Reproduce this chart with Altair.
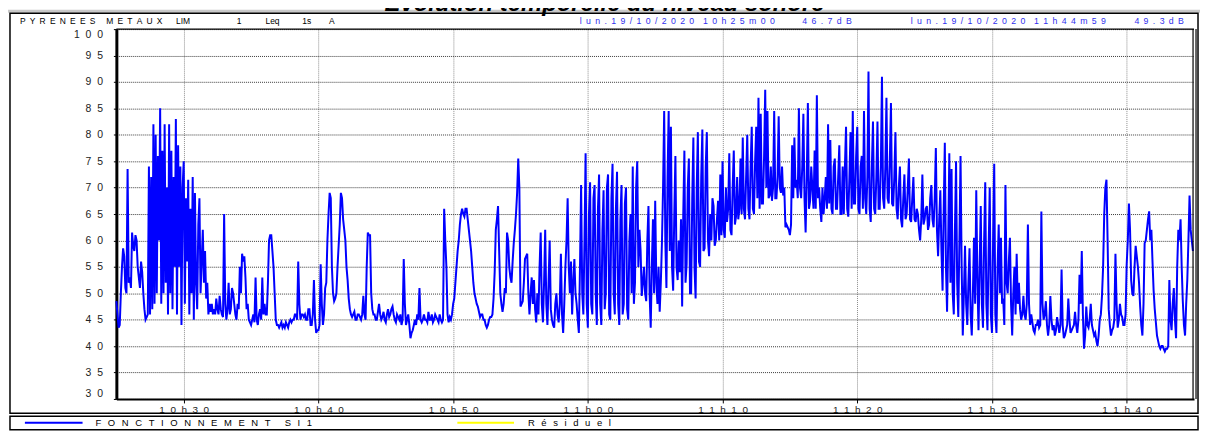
import altair as alt
import pandas as pd

NB = "\u00a0"
EN = "\u2002"
TH = "\u2009"


def spaced(s, sep):
    return sep.join(s)


# ---- data: Leq(A) readings, one value every 5 s (twelve per minute) ----
leq_1025 = [
    48.5, 46, 43.5, 44, 50, 55, 58.5, 57, 51, 50, 73.5, 52,
    53, 51, 61.5, 59, 58, 61, 60, 55, 53, 51, 56, 54,
    50, 47, 45, 45.5, 46, 74, 46, 72, 47, 82, 48, 80,
    50, 76, 60, 85, 48, 77, 50, 82, 52, 70, 46, 82,
    50, 77, 47, 72, 55, 83, 46, 78, 55, 74, 44, 70,
    75, 48, 68, 56, 71.5, 46, 66, 50, 72, 45, 69, 52,
    47, 63, 68, 50, 56, 62, 52, 58, 49, 52, 46, 48,
    46.5, 48, 46, 47, 46, 49, 47, 46, 49.5, 47, 46, 45.5,
    65, 48, 45, 47, 52, 46, 47, 51, 50, 48, 46, 45,
    48, 47, 55, 50, 57.5, 56, 57, 53, 47, 48, 45, 44.5,
]
leq_1035 = [
    44, 45, 46, 44.5, 53, 45, 44, 46, 47, 45, 53, 46,
    48, 46, 46, 52, 60, 61, 61, 58, 55, 50, 45, 44,
    44, 43.5, 44, 44.5, 43.5, 44, 43.5, 44.5, 44, 43.5, 44.5, 45,
    44.5, 45, 45, 46, 46, 45, 56, 48, 45, 46, 46, 45.5,
    46, 45, 45, 47, 47, 44, 44, 46, 52.5, 45, 42.5, 43,
    43, 44, 55.5, 48, 44, 46, 51, 52, 60, 65, 69, 68,
    55, 50, 48.5, 49, 50, 55, 59, 63, 69, 68, 64, 62,
    60, 55, 52.5, 49, 47, 46, 45.5, 46, 46.5, 45, 45, 46,
    46, 45.5, 45, 46, 49.5, 46, 45, 55, 61.5, 61, 61, 50,
    47, 46, 46, 45, 45, 46.5, 48, 46, 45, 45.5, 46.5, 45,
]
leq_1045 = [
    44.5, 46, 47, 45.5, 46, 47, 47.5, 46, 45, 44.5, 46, 45.5,
    45, 46, 44, 45, 56.5, 48, 44, 45, 46, 44, 41.5, 42.5,
    43, 44, 45, 44, 46, 45, 51, 45, 44.5, 45, 46, 45,
    45, 44.5, 46.5, 45, 45, 46, 44.5, 45, 46, 45.5, 45, 44.5,
    46, 45, 44.5, 45, 66, 60, 55, 46, 44.5, 45.5, 45, 46,
    48, 49, 52, 55, 58, 60, 63, 65, 66, 65, 64.5, 66,
    66, 64, 62, 60, 58, 55, 52, 50, 49, 48, 47.5, 46.5,
    45.5, 46, 46, 45, 45, 44, 43.5, 44, 45, 45.5, 45.5, 46,
    49, 54, 62, 64, 66.5, 58, 50, 48, 46.5, 48, 51, 50,
    61.5, 60, 55, 53, 52, 56, 59.5, 62, 65, 69, 75.5, 70,
]
leq_1055 = [
    47.5, 48, 48.5, 52, 56.5, 57, 57.5, 50, 46, 50, 53, 48,
    52.5, 47, 44.5, 50, 46, 55, 61.5, 48, 44.5, 52, 62, 48,
    44, 52, 60, 47, 45, 44, 43.5, 48, 50, 46, 44.5, 48,
    57.5, 46, 42.5, 48, 55, 60, 68, 55, 50, 56, 46, 52,
    56.5, 50, 48, 45, 42.5, 55, 70.5, 50, 46, 60, 76.5, 48,
    43.5, 65, 71, 48, 46, 68, 70.5, 50, 44, 66, 72.5, 48,
    44, 62, 69.5, 47, 50, 70, 72.5, 46, 45, 68, 74.5, 50,
    46, 66, 73, 48, 44, 64, 70.5, 46, 48, 67, 70, 47,
    45, 60, 65, 50, 74, 48, 52, 70, 75, 55, 62, 58,
    49.5, 52, 55, 50, 48.5, 60, 66.5, 50, 43.5, 55, 64, 50,
]
leq_1105 = [
    67.5, 52, 48, 55, 46.5, 52, 59.5, 70, 84.5, 60, 51, 72,
    84.5, 58, 81.5, 55, 50.5, 65, 76, 55, 52.5, 60, 54, 64,
    47.5, 65, 77, 52, 55.5, 70, 75.5, 50, 50, 68, 79.5, 55,
    49, 70, 80.5, 56, 55, 72, 81, 58, 58.5, 74, 80.5, 60,
    57, 65, 60, 68, 66.5, 59, 60, 64, 67.5, 60, 72.5, 61,
    75, 62, 60.5, 70, 63.5, 66, 76.5, 62, 61, 70, 77, 63,
    64.5, 72, 64, 66, 75.5, 65, 79.5, 66, 64, 72, 80, 66,
    64, 74, 81.5, 66, 65, 75, 81.5, 68, 87, 66, 84, 67,
    67, 76, 88.5, 70, 84.5, 68, 68.5, 74, 67.5, 70, 84.5, 68,
    68, 72, 83.5, 70, 69, 74, 68.5, 70, 62.5, 63, 62.5, 62,
]
leq_1115 = [
    61, 63, 78, 68, 79.5, 70, 71.5, 68, 85, 70, 68, 74,
    84, 68, 61.5, 72, 86, 66, 67.5, 74, 70, 66, 77, 66,
    87.5, 68, 70, 66, 63.5, 70, 65, 68, 72, 66, 82, 67,
    79, 66, 65, 74, 75.5, 66, 66, 72, 78, 65, 65, 74,
    65, 74, 81.5, 66, 64.5, 72, 80.5, 66, 84.5, 67, 67, 76,
    81.5, 66, 65, 74, 76, 66, 84.5, 68, 65, 72, 92, 66,
    63.5, 74, 82.5, 66, 65, 72, 82.5, 66, 66, 74, 91, 68,
    66, 74, 87, 68, 67, 75, 86, 67, 66.5, 72, 80.5, 66,
    64, 70, 74, 64, 62.5, 68, 72.5, 64, 65, 70, 75.5, 64,
    63.5, 68, 72, 64, 63.5, 66, 65, 62, 60, 64, 72.5, 63,
]
leq_1125 = [
    64, 66, 66.5, 62, 63, 68, 70.5, 64, 62.5, 68, 77.5, 62,
    57, 64, 69.5, 58, 50.5, 66, 78.5, 55, 46.5, 60, 76.5, 52,
    73.5, 50, 46, 62, 75, 52, 45.5, 60, 76, 55, 42, 50,
    59, 48, 44, 52, 58.5, 46, 42, 50, 60.5, 48, 69.5, 53,
    43, 55, 66.5, 48, 43.5, 60, 71, 48, 43, 58, 70, 46,
    42.5, 60, 74.5, 46, 42.5, 55, 63, 50, 60.5, 48, 49, 44,
    70.5, 52, 50, 56, 60.5, 48, 42, 50, 55, 46, 57.5, 48,
    52, 47, 45, 46, 49.5, 46, 45, 48, 63, 48, 44, 46,
    44.5, 43, 42.5, 44, 44, 45, 43.5, 44, 65.5, 48, 45, 46,
    48.5, 44, 42, 44, 49.5, 45, 43, 44, 42, 43, 45.5, 44,
]
leq_1135 = [
    42.5, 44, 54.5, 44, 41.5, 42, 43, 44, 49, 45, 42.5, 43,
    43.5, 44, 46.5, 44, 42.5, 45, 53.5, 48, 58, 46, 39.5, 42,
    47.5, 44, 43.5, 45, 48, 44, 43, 42, 42.5, 41, 40, 42,
    45, 46, 49.5, 55, 65, 70, 71.5, 60, 47, 44, 42, 43,
    43.5, 45, 57.5, 48, 43.5, 45, 48, 46, 45.5, 44, 44, 46,
    55.5, 60, 67, 62, 52.5, 50, 49.5, 55, 59, 57, 55, 52,
    47.5, 44, 42, 48, 59.5, 60, 62, 64, 65.5, 60, 62, 56,
    50.5, 47, 44.5, 42, 41, 40, 39.5, 40, 40, 39.5, 39, 39.5,
    39.5, 40, 52.5, 45, 43, 48, 51, 45, 41.5, 55, 62, 60,
    64, 55, 48.5, 44, 42, 48, 52.5, 60, 68.5, 62, 60, 58,
]

step_s = 5
leq = leq_1025 + leq_1035 + leq_1045 + leq_1055 + leq_1105 + leq_1115 + leq_1125 + leq_1135
df = pd.DataFrame({"t": [i * step_s for i in range(len(leq))], "db": leq})

x_tick_secs = [300, 900, 1500, 2100, 2700, 3300, 3900, 4500]
x_tick_labels = ["10h30", "10h40", "10h50", "11h00", "11h10", "11h20", "11h30", "11h40"]
y_ticks = [30, 35, 40, 45, 50, 55, 60, 65, 70, 75, 80, 85, 90, 95, 100]

title_txt = "Evolution temporelle du niveau sonore"
header_left = "PYRENEES METAUX"
header_rest = [("LIM", 177), ("1", 238), ("Leq", 267), ("1s", 304), ("A", 331)]
start_stamp = "lun.19/10/2020 10h25m00"
start_val = "46.7dB"
end_stamp = "lun.19/10/2020 11h44m59"
end_val = "49.3dB"
legend_main = "FONCTIONNEMENT SI1"
legend_resid = "Résiduel"

# ---- layout helpers (page pixel -> plot coordinates) ----
W, H = 1084, 372
OX, OY = 117, 28


def px(x):
    return x - OX


def py(y):
    return y - OY


xlabel_expr = "{" + ",".join(
    "'%d':'%s'" % (s, spaced(l, NB + NB)) for s, l in zip(x_tick_secs, x_tick_labels)
) + "}[''+datum.value]"
ylabel_expr = "{" + ",".join(
    "'%d':'%s'" % (v, spaced(str(v), NB + NB)) for v in y_ticks
) + "}[''+datum.value]"

FONT = "Liberation Sans"
one = pd.DataFrame({"k": [0]})
base = alt.Chart(one)

gray_top = base.mark_rule(color="#c8c8c8", strokeWidth=3).encode(
    x=alt.value(px(3)), x2=alt.value(px(1208)), y=alt.value(py(10)))
frame = base.mark_rect(filled=False, stroke="black", strokeWidth=1.5).encode(
    x=alt.value(px(10)), x2=alt.value(px(1205)), y=alt.value(py(12)), y2=alt.value(py(414.5)))
legend_box = base.mark_rect(filled=False, stroke="black", strokeWidth=1.5).encode(
    x=alt.value(px(10)), x2=alt.value(px(1205)), y=alt.value(py(417.5)), y2=alt.value(py(431)))
top_rule = base.mark_rule(color="black", strokeWidth=1.5).encode(
    x=alt.value(0), x2=alt.value(W), y=alt.value(0))
right_a = base.mark_rule(color="black", strokeWidth=1.2).encode(
    x=alt.value(W - 1), y=alt.value(0), y2=alt.value(H))
right_b = base.mark_rule(color="black", strokeWidth=1.2).encode(
    x=alt.value(W + 2), y=alt.value(0), y2=alt.value(H))

line = alt.Chart(df).mark_line(color="#0000ff", strokeWidth=2).encode(
    x=alt.X("t:Q", scale=alt.Scale(domain=[0, 4800], nice=False, zero=False),
            axis=alt.Axis(values=x_tick_secs, labelExpr=xlabel_expr, title=None,
                          grid=True, gridColor="#8c8c8c", gridDash=[1, 1], gridWidth=1,
                          domainColor="black", domainWidth=2, tickColor="black",
                          tickSize=4, labelFont=FONT, labelFontSize=10,
                          labelColor="#222222", labelPadding=2, labelFlush=False)),
    y=alt.Y("db:Q", scale=alt.Scale(domain=[30, 100], nice=False, zero=False),
            axis=alt.Axis(values=y_ticks, labelExpr=ylabel_expr, title=None,
                          grid=True, gridColor="#3a3a3a", gridDash=[1, 1], gridWidth=1,
                          domainColor="black", domainWidth=3, tickColor="black",
                          tickSize=3, labelFont=FONT, labelFontSize=10.5,
                          labelColor="#222222", labelPadding=11, labelFlush=True)),
)


def text(s, x, y, size=9, color="black", align="left", **kw):
    return base.mark_text(align=align, baseline="middle", font=FONT, fontSize=size,
                          color=color, **kw).encode(
        x=alt.value(px(x)), y=alt.value(py(y)), text=alt.value(s))


layers = [gray_top, frame, legend_box, line, top_rule, right_a, right_b]

layers.append(base.mark_text(align="center", baseline="alphabetic", font=FONT,
                             fontSize=24, fontStyle="italic", fontWeight="bold",
                             color="black").encode(
    x=alt.value(px(608)), y=alt.value(py(9.5)), text=alt.value(title_txt)))

hl = (EN + EN + NB).join(spaced(w, EN) for w in header_left.split(" "))
layers.append(text(hl, 20, 20, size=8.5))
for s, x in header_rest:
    layers.append(text(s, x, 20, size=8.5))

BLUE = "#3030ee"
layers.append(text(spaced(start_stamp, EN).replace(" ", ""), 583, 20, size=8.8, color=BLUE))
layers.append(text(spaced(start_val, EN), 807, 20, size=8.8, color=BLUE))
layers.append(text(spaced(end_stamp, EN).replace(" ", ""), 916, 20, size=8.8, color=BLUE))
layers.append(text(spaced(end_val, EN), 1141, 20, size=8.8, color=BLUE))

layers.append(base.mark_rule(color="#0000ff", strokeWidth=2).encode(
    x=alt.value(px(25)), x2=alt.value(px(83)), y=alt.value(py(424))))
layers.append(base.mark_rule(color="#ffff00", strokeWidth=2).encode(
    x=alt.value(px(460)), x2=alt.value(px(517)), y=alt.value(py(424))))
lm = (EN + EN + EN).join(spaced(w, EN + TH) for w in legend_main.split(" "))
layers.append(text(lm, 96, 424.5, size=9.5))
layers.append(text(spaced(legend_resid, EN + TH), 531, 424.5, size=9.5))

chart = alt.layer(*layers).properties(
    width=W, height=H,
    padding={"left": 109, "top": 20, "right": 6, "bottom": 32},
    autosize=alt.AutoSizeParams(type="none"),
).configure_view(stroke=None)

chart.save("out.html", embed_options={"renderer": "svg", "actions": False})
